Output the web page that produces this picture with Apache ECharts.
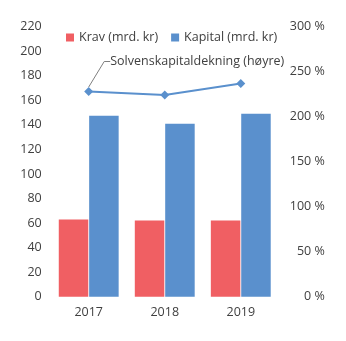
<!DOCTYPE html>
<html>
<head>
<meta charset="utf-8">
<script src="https://cdn.jsdelivr.net/npm/echarts@6/dist/echarts.min.js"></script>
<style>
  html, body { margin: 0; padding: 0; background: #fff; }
  #chart { width: 346px; height: 341px; }
</style>
</head>
<body>
<div id="chart"></div>
<script>
// Solvenskapital: krav, kapital og dekning per år
const years = ['2017', '2018', '2019'];
const krav = [63, 62, 62];            // mrd. kr
const kapital = [147.5, 141, 149];    // mrd. kr
const dekning = [228, 224, 237];      // prosent (høyre akse)
const lineLabel = 'Solvenskapitaldekning (høyre)';

const FONT = '"Open Sans", "Noto Sans", sans-serif';
const FS = 12.5;
const TEXT = '#404040';
const RED = '#F05F63';
const BLUE = '#5A90CD';

const chart = echarts.init(document.getElementById('chart'), null, { renderer: 'canvas' });

chart.setOption({
  animation: false,
  textStyle: { fontFamily: FONT, color: TEXT },
  legend: {
    data: ['Krav (mrd. kr)', 'Kapital (mrd. kr)'],
    left: 66,
    top: 31,
    icon: 'rect',
    itemWidth: 8,
    itemHeight: 8,
    itemGap: 13,
    textStyle: { fontFamily: FONT, fontSize: FS, color: TEXT },
    padding: 0
  },
  grid: { left: 50.7, right: 67.2, top: 26.7, bottom: 44.3, containLabel: false },
  xAxis: {
    type: 'category',
    data: years,
    axisLine: { show: false },
    axisTick: { show: false },
    axisLabel: { fontFamily: FONT, fontSize: FS, color: TEXT, margin: 9 }
  },
  yAxis: [
    {
      type: 'value',
      min: 0, max: 220, interval: 20,
      axisLine: { show: false },
      axisTick: { show: false },
      splitLine: { show: false },
      axisLabel: { fontFamily: FONT, fontSize: FS, color: TEXT, margin: 9 }
    },
    {
      type: 'value',
      min: 0, max: 300, interval: 50,
      position: 'right',
      axisLine: { show: false },
      axisTick: { show: false },
      splitLine: { show: false },
      axisLabel: {
        fontFamily: FONT, fontSize: FS, color: TEXT,
        align: 'right', margin: 46,
        formatter: '{value} %'
      }
    }
  ],
  series: [
    {
      name: 'Krav (mrd. kr)',
      type: 'bar',
      data: krav,
      barWidth: 29.5,
      barGap: '3%',
      itemStyle: { color: RED }
    },
    {
      name: 'Kapital (mrd. kr)',
      type: 'bar',
      data: kapital,
      barWidth: 29.5,
      itemStyle: { color: BLUE }
    },
    {
      name: lineLabel,
      type: 'line',
      yAxisIndex: 1,
      data: dekning.map((v, i) => i === 0 ? {
        value: v,
        label: {
          show: true,
          position: 'right',
          distance: 0,
          padding: [0, 0, 0, 5],
          formatter: lineLabel,
          fontFamily: FONT, fontSize: FS, color: TEXT
        }
      } : v),
      symbol: 'diamond',
      symbolSize: 9,
      lineStyle: { color: BLUE, width: 2 },
      itemStyle: { color: BLUE },
      labelLine: {
        show: true,
        length2: 6,
        lineStyle: { color: '#7f7f7f', width: 1 }
      },
      labelLayout: function (params) {
        if (params.dataIndex !== 0) return {};
        return { dx: 12, dy: -30 };
      },
      z: 5
    }
  ]
});
</script>
</body>
</html>
